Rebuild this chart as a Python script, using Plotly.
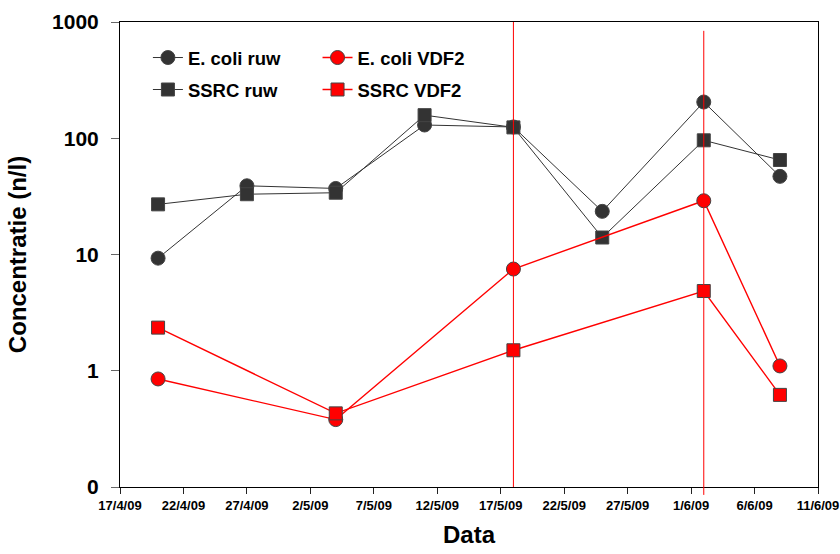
import plotly.graph_objects as go

# ---- data ----
dates_ruw = ["2009-04-20", "2009-04-27", "2009-05-04", "2009-05-11",
             "2009-05-18", "2009-05-25", "2009-06-02", "2009-06-08"]
ecoli_ruw = [9.3, 39, 37, 130, 125, 23.5, 205, 47]
ssrc_ruw = [27, 33, 34, 158, 124, 14, 96, 65]

dates_vdf2 = ["2009-04-20", "2009-05-04", "2009-05-18", "2009-06-02", "2009-06-08"]
ecoli_vdf2 = [0.85, 0.38, 7.5, 29, 1.1]
ssrc_vdf2 = [2.35, 0.43, 1.5, 4.85, 0.62]

event_dates = ["2009-05-18", "2009-06-02"]

x_tick_dates = ["2009-04-17", "2009-04-22", "2009-04-27", "2009-05-02", "2009-05-07",
                "2009-05-12", "2009-05-17", "2009-05-22", "2009-05-27", "2009-06-01",
                "2009-06-06", "2009-06-11"]
x_tick_labels = ["17/4/09", "22/4/09", "27/4/09", "2/5/09", "7/5/09", "12/5/09",
                 "17/5/09", "22/5/09", "27/5/09", "1/6/09", "6/6/09", "11/6/09"]
y_tick_vals = [0.1, 1, 10, 100, 1000]
y_tick_labels = ["0", "1", "10", "100", "1000"]

FONT = "Liberation Sans, Arial, sans-serif"
DARK = "#333333"
RED = "#FF0000"

fig = go.Figure()

series = [
    ("E. coli ruw", dates_ruw, ecoli_ruw, "circle", DARK, DARK, 1, "legend"),
    ("SSRC ruw", dates_ruw, ssrc_ruw, "square", DARK, DARK, 1, "legend2"),
    ("E. coli VDF2", dates_vdf2, ecoli_vdf2, "circle", RED, RED, 1.4, "legend3"),
    ("SSRC VDF2", dates_vdf2, ssrc_vdf2, "square", RED, RED, 1.4, "legend4"),
]
for name, xs, ys, sym, fill, lc, lw, lg in series:
    fig.add_trace(go.Scatter(
        x=xs, y=ys, name=name, mode="lines+markers",
        line=dict(color=lc, width=lw),
        marker=dict(symbol=sym, size=14 if sym == "circle" else 13, color=fill,
                    line=dict(color="#444444", width=1)),
        legend=lg,
    ))

# vertical event lines
fig.add_shape(type="line", xref="x", yref="paper", x0=event_dates[0], x1=event_dates[0],
              y0=0, y1=1, line=dict(color=RED, width=1))
fig.add_shape(type="line", xref="x", yref="paper", x0=event_dates[1], x1=event_dates[1],
              y0=-0.017, y1=0.981, line=dict(color=RED, width=1))

legend_font = dict(family=FONT, size=18.5, color="black", weight="bold")
def leg(x, y):
    return dict(x=x, y=y, xanchor="left", yanchor="middle", xref="paper", yref="paper",
                bgcolor="rgba(0,0,0,0)", font=legend_font, borderwidth=0,
                itemwidth=30, tracegroupgap=0)

fig.update_layout(
    width=840, height=554,
    margin=dict(l=120, r=22, t=22, b=67, autoexpand=False),
    paper_bgcolor="white", plot_bgcolor="white",
    showlegend=True,
    legend=leg(0.040, 0.9226),
    legend2=leg(0.040, 0.8538),
    legend3=leg(0.283, 0.9226),
    legend4=leg(0.283, 0.8538),
    xaxis=dict(
        type="date", range=["2009-04-17", "2009-06-11"], automargin=False,
        tickvals=x_tick_dates, ticktext=x_tick_labels,
        ticks="outside", ticklen=6, tickcolor="#222222", tickwidth=1,
        showline=True, linecolor="black", linewidth=1, mirror=True,
        showgrid=False, zeroline=False,
        tickfont=dict(family=FONT, size=13, color="black", weight="bold"),
        title=dict(text="Data", font=dict(family=FONT, size=24, color="black", weight="bold"),
                   standoff=14),
    ),
    yaxis=dict(
        type="log", range=[-1, 3], automargin=False,
        tickvals=y_tick_vals, ticktext=y_tick_labels,
        ticks="outside", ticklen=8, tickcolor="#666666", tickwidth=1,
        ticklabelstandoff=8,
        showline=True, linecolor="black", linewidth=1, mirror=True,
        showgrid=False, zeroline=False,
        tickfont=dict(family=FONT, size=21, color="black", weight="bold"),
        title=dict(text="Concentratie (n/l)",
                   font=dict(family=FONT, size=24, color="black", weight="bold"),
                   standoff=18),
    ),
)

fig.write_html("out.html")
